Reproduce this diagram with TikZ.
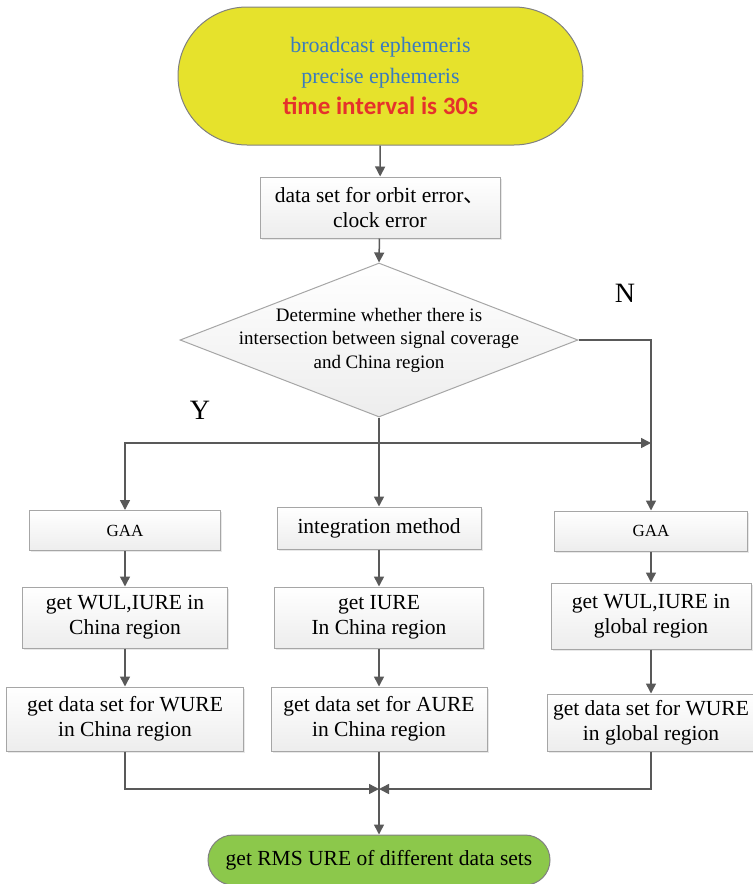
\documentclass[tikz,border=0pt]{standalone}
\usepackage{fontspec}
\setmainfont{Liberation Serif}
\newfontfamily\cjk{Noto Sans CJK SC}
\newfontfamily\calib{Carlito}
\usetikzlibrary{shapes.geometric,arrows.meta,shadows}
\definecolor{boxline}{HTML}{A6A6A6}
\definecolor{boxfill}{HTML}{EDEDED}
\definecolor{flowline}{HTML}{595959}
\definecolor{termyl}{HTML}{E6E22C}
\definecolor{termgr}{HTML}{8CC84B}
\definecolor{inkblue}{HTML}{3A7BBF}
\definecolor{inkred}{HTML}{E5322B}

\begin{document}
\begin{tikzpicture}[x=0.5pt,y=-0.5pt,
  txt/.style={font=\fontsize{10.75}{12.5}\selectfont},
  proc/.style={draw=boxline,line width=0.5pt,top color=white,bottom color=boxfill,
    inner sep=0,align=center,drop shadow={opacity=0.18,shadow xshift=0.8pt,shadow yshift=-0.8pt},txt},
  term/.style={draw=gray,line width=0.5pt,inner sep=0,align=center},
  decide/.style={diamond,draw=boxline,line width=0.5pt,top color=white,bottom color=boxfill,
    inner sep=0,minimum width=199pt,minimum height=77pt},
  flow/.style={draw=flowline,line width=0.75pt,-{Triangle[length=5pt,width=5pt]}},
  yn/.style={font=\fontsize{14}{14}\selectfont}]
\useasboundingbox (0,0) rectangle (753,884);

\node[term,fill=termyl,minimum width=202.5pt,minimum height=69pt,rounded corners=34.5pt,
  font=\fontsize{11}{15.5}\selectfont] (src) at (380.5,76)
  {\color{inkblue}broadcast ephemeris\\ \color{inkblue}precise ephemeris\\
   {\calib\bfseries\fontsize{12.5}{15.5}\selectfont\color{inkred}time interval is 30s}};
\node[proc,minimum width=120pt,minimum height=30.5pt] (data) at (380,207.5)
  {data set for orbit error{\cjk 、}\\ clock error};

\node[decide] (chk) at (379,340) {};
\node[align=center,font=\fontsize{9.5}{11.75}\selectfont] (chktxt) at (chk)
  {Determine whether there is\\ intersection between signal coverage\\ and China region};
\node[yn] (no) at (625,293) {N};
\node[yn] (yes) at (200,410) {Y};

\node[proc,minimum width=95.5pt,minimum height=20pt,font=\fontsize{8.5}{10}\selectfont] (gaaL) at (125,530.5) {GAA};
\node[proc,minimum width=102pt,minimum height=21pt] (integ) at (379,528) {integration method};
\node[proc,minimum width=96.5pt,minimum height=20pt,font=\fontsize{8.5}{10}\selectfont] (gaaR) at (651,531) {GAA};

\node[proc,minimum width=102.5pt,minimum height=30.5pt] (wulL) at (125,617.5) {get WUL,IURE in\\ China region};
\node[proc,minimum width=104.5pt,minimum height=30.5pt] (iure) at (379,617.5) {get IURE\\ In China region};
\node[proc,minimum width=100pt,minimum height=33pt] (wulR) at (651,616) {get WUL,IURE in\\ global region};

\node[proc,minimum width=118.5pt,minimum height=32pt] (setL) at (125,719) {get data set for WURE\\ in China region};
\node[proc,minimum width=108pt,minimum height=32pt] (setM) at (379,719) {get data set for AURE\\ in China region};
\node[proc,minimum width=104pt,minimum height=28.5pt] (setR) at (651,722.5) {get data set for WURE\\ in global region};

\node[term,fill=termgr,minimum width=171pt,minimum height=25pt,rounded corners=12.5pt,txt] (fin) at (379,860)
  {get RMS URE of different data sets};

\coordinate (ybr) at (379,443);
\coordinate (yend) at (651,443);
\coordinate (join) at (379,789);

\draw[flow] (src) -- (data);
\draw[flow] (data) -- (chk.north);
\draw[flow] (chk.east) -| (gaaR.north);
\draw[flow] (chk.south) -- (integ.north);
\draw[flow] (ybr) -| (gaaL.north);
\draw[flow] (ybr) -- (yend);
\draw[flow] (gaaL) -- (wulL);
\draw[flow] (wulL) -- (setL);
\draw[flow] (integ) -- (iure);
\draw[flow] (iure) -- (setM);
\draw[flow] (gaaR) -- (wulR);
\draw[flow] (wulR) -- (setR);
\draw[flow] (setL.south) |- (join);
\draw[flow] (setR.south) |- (join);
\draw[flow] (setM.south) -- (fin.north);
\end{tikzpicture}
\end{document}
